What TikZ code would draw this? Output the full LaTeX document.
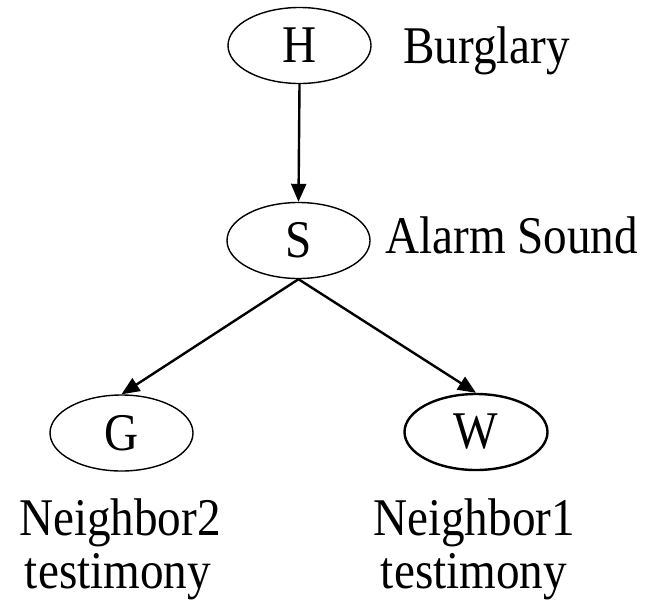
\documentclass[tikz,border=0pt]{standalone}
\usepackage{fontspec}
\setmainfont{Liberation Serif}[FakeStretch=0.89]
\usetikzlibrary{shapes.geometric,arrows.meta}
\tikzset{
  var/.style={ellipse,draw,line width=1.4pt,minimum width=143pt,minimum height=76pt,inner sep=0pt,font=\fontsize{53}{54}\selectfont},
  lbl/.style={inner sep=0pt,font=\fontsize{53}{54}\selectfont},
  edge/.style={line width=2.4pt,-{Triangle[length=18pt,width=15pt]}}
}
\begin{document}
\begin{tikzpicture}[x=1pt,y=-1pt]
\useasboundingbox (0,0) rectangle (650,603);
\node[var] (H) at (299.5,45.5) {H};
\node[var] (S) at (298.5,240.5) {S};
\node[var] (G) at (121.5,433) {G};
\node[var,line width=2.4pt] (W) at (476,432) {W};
\node[lbl,anchor=base west] (hl) at (403,63) {Burglary};
\node[lbl,anchor=base west] (sl) at (385,253) {Alarm Sound};
\node[lbl,anchor=base] (g1) at (120,535) {Neighbor2};
\node[lbl,anchor=base] (g2) at (118,588) {testimony};
\node[lbl,anchor=base] (w1) at (474,535) {Neighbor1};
\node[lbl,anchor=base] (w2) at (474,588) {testimony};
\draw[edge] (H.south) -- (S.north);
\draw[edge] (S.south) -- (G.north);
\draw[edge] (S.south) -- (W.north);
\end{tikzpicture}
\end{document}
